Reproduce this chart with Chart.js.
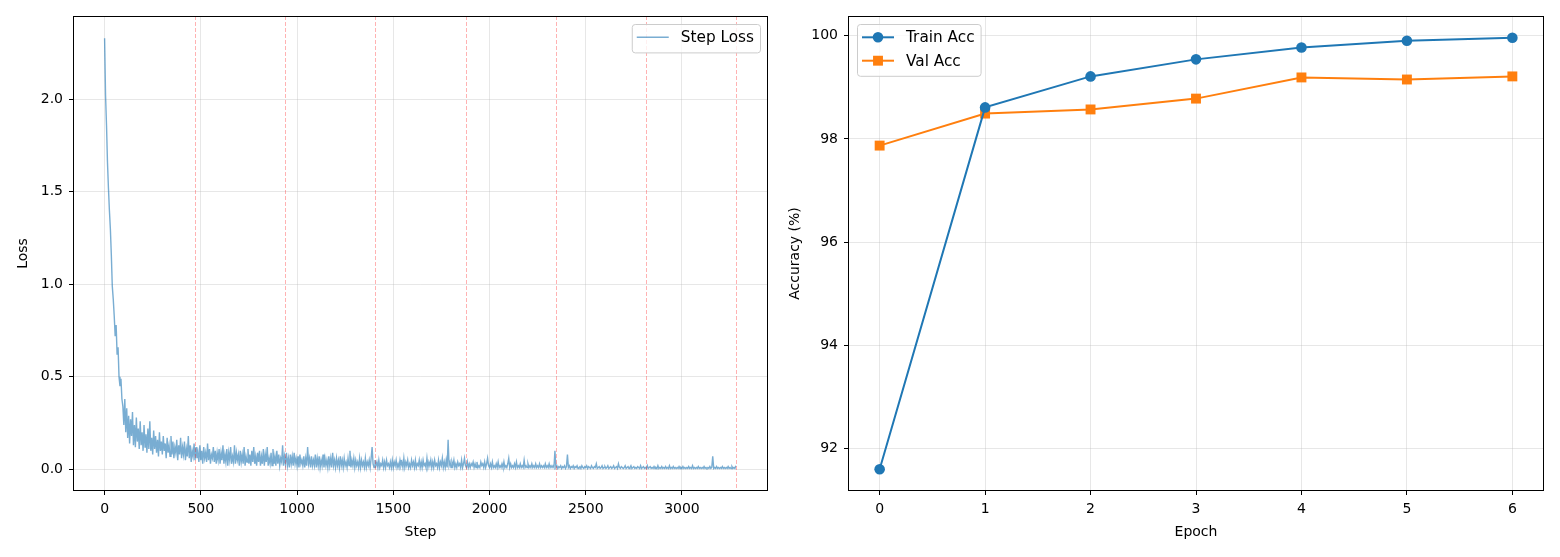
<!DOCTYPE html>
<html>
<head>
<meta charset="utf-8">
<script src="https://cdn.jsdelivr.net/npm/chart.js@4.4.1/dist/chart.umd.min.js"></script>
<style>
  html, body { margin: 0; padding: 0; background: #fff; }
  #wrap { position: relative; width: 1560px; height: 557px; }
  .panel { position: absolute; top: 0; width: 780px; height: 557px; }
</style>
</head>
<body>
<div id="wrap">
  <div class="panel" style="left:0"><canvas id="lossChart" width="780" height="557"></canvas></div>
  <div class="panel" style="left:780px"><canvas id="accChart" width="780" height="557"></canvas></div>
</div>
<script>
/* data, one loss value every 5 steps */
const stepStride = 5;
const lossValues = [
  2.33, 2.02, 1.86, 1.66, 1.52, 1.40, 1.30, 1.16, 0.99, 0.92, 0.83, 0.72, 0.78, 0.62, 0.66, 0.50, 0.45, 0.49, 0.38, 0.34,
  0.24, 0.38, 0.20, 0.33, 0.17, 0.29, 0.14, 0.27, 0.18, 0.31, 0.13, 0.24, 0.12, 0.28, 0.15, 0.22, 0.11, 0.26, 0.13, 0.20,
  0.10, 0.24, 0.12, 0.19, 0.09, 0.22, 0.11, 0.26, 0.10, 0.17, 0.08, 0.21, 0.11, 0.18, 0.09, 0.16, 0.07, 0.20, 0.10, 0.15,
  0.08, 0.18, 0.10, 0.14, 0.06, 0.17, 0.09, 0.13, 0.07, 0.18, 0.08, 0.15, 0.06, 0.12, 0.09, 0.16, 0.05, 0.13, 0.08, 0.17,
  0.06, 0.12, 0.08, 0.15, 0.05, 0.11, 0.07, 0.18, 0.06, 0.13, 0.04, 0.10, 0.07, 0.14, 0.05, 0.12, 0.06, 0.09, 0.04, 0.13,
  0.05, 0.10, 0.03, 0.12, 0.06, 0.09, 0.04, 0.14, 0.05, 0.11, 0.03, 0.08, 0.06, 0.12, 0.04, 0.10, 0.03, 0.09, 0.05, 0.11,
  0.03, 0.09, 0.05, 0.13, 0.03, 0.08, 0.04, 0.11, 0.02, 0.09, 0.05, 0.12, 0.03, 0.07, 0.04, 0.13, 0.03, 0.09, 0.05, 0.08,
  0.02, 0.10, 0.04, 0.08, 0.03, 0.12, 0.02, 0.07, 0.04, 0.11, 0.03, 0.08, 0.02, 0.10, 0.04, 0.12, 0.03, 0.07, 0.02, 0.09,
  0.04, 0.10, 0.02, 0.07, 0.03, 0.11, 0.02, 0.08, 0.04, 0.12, 0.02, 0.06, 0.03, 0.09, 0.02, 0.11, 0.03, 0.07, 0.02, 0.10,
  0.03, 0.08, 0.02, 0.06, 0.04, 0.13, 0.02, 0.07, 0.03, 0.09, 0.02, 0.06, 0.01, 0.08, 0.03, 0.07, 0.02, 0.09, 0.03, 0.06,
  0.02, 0.07, 0.01, 0.08, 0.03, 0.05, 0.02, 0.07, 0.01, 0.06, 0.02, 0.12, 0.03, 0.06, 0.01, 0.07, 0.02, 0.05, 0.02, 0.08,
  0.01, 0.06, 0.02, 0.07, 0.01, 0.05, 0.02, 0.08, 0.01, 0.06, 0.02, 0.05, 0.01, 0.07, 0.02, 0.06, 0.01, 0.09, 0.02, 0.05,
  0.01, 0.06, 0.02, 0.05, 0.01, 0.07, 0.02, 0.05, 0.01, 0.06, 0.02, 0.04, 0.01, 0.06, 0.02, 0.10, 0.01, 0.05, 0.02, 0.06,
  0.01, 0.05, 0.02, 0.04, 0.01, 0.06, 0.01, 0.05, 0.02, 0.04, 0.01, 0.06, 0.01, 0.04, 0.02, 0.05, 0.01, 0.06, 0.12, 0.03,
  0.01, 0.05, 0.02, 0.04, 0.01, 0.05, 0.01, 0.03, 0.02, 0.05, 0.01, 0.04, 0.01, 0.05, 0.02, 0.03, 0.01, 0.04, 0.01, 0.05,
  0.01, 0.04, 0.02, 0.05, 0.01, 0.03, 0.01, 0.05, 0.02, 0.04, 0.01, 0.06, 0.01, 0.04, 0.02, 0.05, 0.01, 0.03, 0.01, 0.05,
  0.02, 0.04, 0.01, 0.05, 0.01, 0.03, 0.02, 0.05, 0.01, 0.04, 0.01, 0.05, 0.02, 0.03, 0.01, 0.06, 0.01, 0.04, 0.02, 0.05,
  0.01, 0.04, 0.01, 0.05, 0.02, 0.03, 0.01, 0.05, 0.01, 0.04, 0.02, 0.06, 0.01, 0.04, 0.01, 0.05, 0.01, 0.16, 0.02, 0.04,
  0.01, 0.04, 0.02, 0.05, 0.01, 0.03, 0.01, 0.04, 0.02, 0.03, 0.01, 0.05, 0.01, 0.03, 0.06, 0.02, 0.01, 0.04, 0.01, 0.03,
  0.01, 0.03, 0.02, 0.04, 0.01, 0.03, 0.01, 0.04, 0.01, 0.02, 0.01, 0.04, 0.02, 0.03, 0.01, 0.04, 0.01, 0.03, 0.06, 0.02,
  0.01, 0.03, 0.01, 0.04, 0.01, 0.02, 0.01, 0.03, 0.01, 0.04, 0.01, 0.02, 0.01, 0.03, 0.01, 0.04, 0.01, 0.02, 0.01, 0.03,
  0.06, 0.01, 0.03, 0.01, 0.02, 0.01, 0.03, 0.01, 0.04, 0.01, 0.02, 0.01, 0.03, 0.01, 0.02, 0.01, 0.05, 0.01, 0.02, 0.01,
  0.03, 0.01, 0.02, 0.01, 0.03, 0.01, 0.02, 0.01, 0.03, 0.01, 0.02, 0.01, 0.03, 0.01, 0.02, 0.01, 0.02, 0.01, 0.03, 0.01,
  0.02, 0.01, 0.03, 0.01, 0.02, 0.01, 0.02, 0.01, 0.10, 0.01, 0.02, 0.005, 0.015, 0.01, 0.02, 0.005, 0.015, 0.01, 0.02, 0.005,
  0.015, 0.08, 0.01, 0.02, 0.005, 0.015, 0.01, 0.02, 0.005, 0.015, 0.01, 0.02, 0.005, 0.01, 0.015, 0.005, 0.02, 0.01, 0.005, 0.015,
  0.01, 0.02, 0.005, 0.015, 0.01, 0.005, 0.02, 0.01, 0.005, 0.015, 0.01, 0.03, 0.005, 0.01, 0.015, 0.005, 0.01, 0.02, 0.005, 0.01,
  0.015, 0.005, 0.01, 0.02, 0.005, 0.01, 0.015, 0.005, 0.01, 0.02, 0.005, 0.01, 0.015, 0.005, 0.03, 0.01, 0.005, 0.015, 0.01, 0.005,
  0.01, 0.02, 0.005, 0.01, 0.015, 0.005, 0.01, 0.02, 0.005, 0.01, 0.015, 0.005, 0.01, 0.005, 0.015, 0.01, 0.005, 0.02, 0.005, 0.01,
  0.015, 0.005, 0.01, 0.005, 0.02, 0.005, 0.01, 0.015, 0.005, 0.01, 0.005, 0.015, 0.005, 0.01, 0.005, 0.02, 0.005, 0.01, 0.005, 0.015,
  0.005, 0.01, 0.005, 0.015, 0.005, 0.01, 0.005, 0.02, 0.005, 0.01, 0.005, 0.015, 0.005, 0.01, 0.005, 0.01, 0.005, 0.015, 0.005, 0.01,
  0.005, 0.015, 0.005, 0.01, 0.005, 0.01, 0.005, 0.015, 0.005, 0.01, 0.005, 0.02, 0.005, 0.01, 0.005, 0.01, 0.005, 0.015, 0.005, 0.01,
  0.005, 0.01, 0.005, 0.015, 0.005, 0.01, 0.005, 0.01, 0.005, 0.015, 0.005, 0.01, 0.07, 0.005, 0.01, 0.005, 0.015, 0.005, 0.01, 0.005,
  0.01, 0.005, 0.015, 0.005, 0.01, 0.005, 0.01, 0.005, 0.015, 0.005, 0.01, 0.005, 0.015, 0.005, 0.01, 0.005, 0.02
];
const epochEndSteps = [469, 938, 1407, 1876, 2345, 2814, 3283];
const lossXTicks = [0, 500, 1000, 1500, 2000, 2500, 3000];
const lossYTicks = [0, 0.5, 1.0, 1.5, 2.0];

const epochs = [0, 1, 2, 3, 4, 5, 6];
const trainAcc = [91.60, 98.61, 99.21, 99.54, 99.77, 99.90, 99.96];
const valAcc = [97.87, 98.49, 98.57, 98.78, 99.19, 99.15, 99.21];
const accYTicks = [92, 94, 96, 98, 100];

const FONT = 'DejaVu Sans';
const gridColor = 'rgba(176,176,176,0.3)';
Chart.defaults.font.family = FONT;
Chart.defaults.font.size = 14;
Chart.defaults.color = '#000';

// full black box round the plot area, like matplotlib spines
const spines = {
    id: 'spines',
    afterDraw(chart) {
        const { ctx, chartArea: a } = chart;
        ctx.save();
        ctx.strokeStyle = '#000';
        ctx.lineWidth = 1;
        ctx.strokeRect(a.left + 0.5, a.top + 0.5, a.right - a.left - 1, a.bottom - a.top - 1);
        ctx.restore();
    }
};

// red dashed lines at the end of every epoch
const epochLines = {
    id: 'epochLines',
    afterDatasetsDraw(chart) {
        const { ctx, chartArea: a, scales: { x } } = chart;
        ctx.save();
        ctx.strokeStyle = 'rgba(255,0,0,0.3)';
        ctx.lineWidth = 1;
        ctx.setLineDash([4, 2]);
        epochEndSteps.forEach(s => {
            const px = Math.round(x.getPixelForValue(s)) + 0.5;
            ctx.beginPath();
            ctx.moveTo(px, a.top);
            ctx.lineTo(px, a.bottom);
            ctx.stroke();
        });
        ctx.restore();
    }
};

// legend box inside the plot area
const mplLegend = {
    id: 'mplLegend',
    afterDraw(chart, args, opts) {
        const { ctx, chartArea: a } = chart;
        const sets = chart.data.datasets;
        ctx.save();
        ctx.font = '15.3px "' + FONT + '"';
        const rowH = 23.4, pad = 5, lineLen = 32, gap = 12;
        const textW = Math.max(...sets.map(d => ctx.measureText(d.label).width));
        const w = pad + lineLen + gap + textW + 6;
        const h = rowH * sets.length + 5;
        const x = opts.align === 'right' ? a.right - 8 - w : a.left + 9;
        const y = a.top + 8;
        ctx.beginPath();
        ctx.roundRect(x + 0.5, y + 0.5, w, h, 3);
        ctx.fillStyle = 'rgba(255,255,255,0.8)';
        ctx.fill();
        ctx.strokeStyle = '#cccccc';
        ctx.lineWidth = 1;
        ctx.stroke();
        sets.forEach((d, i) => {
            const cy = y + 13.3 + rowH * i;
            const x0 = x + pad, x1 = x + pad + lineLen;
            ctx.strokeStyle = d.borderColor;
            ctx.lineWidth = d.borderWidth;
            ctx.beginPath();
            ctx.moveTo(x0, cy);
            ctx.lineTo(x1, cy);
            ctx.stroke();
            const mx = (x0 + x1) / 2;
            ctx.fillStyle = d.backgroundColor;
            if (d.pointStyle === 'circle') {
                ctx.beginPath();
                ctx.arc(mx, cy, d.pointRadius, 0, Math.PI * 2);
                ctx.fill();
            } else if (d.pointStyle === 'rect') {
                const s = d.pointRadius * Math.SQRT1_2;
                ctx.fillRect(mx - s, cy - s, 2 * s, 2 * s);
            }
            ctx.fillStyle = '#000';
            ctx.textBaseline = 'middle';
            ctx.fillText(d.label, x1 + gap, cy + 1);
        });
        ctx.restore();
    }
};

function axisStyle(ticks, fmt) {
    return {
        grid: { color: gridColor, tickColor: '#000', tickLength: 4, lineWidth: 1 },
        border: { display: false },
        ticks: { padding: 6, callback: fmt, autoSkip: false, maxRotation: 0 },
        afterBuildTicks: scale => { scale.ticks = ticks.map(v => ({ value: v })); }
    };
}

function lossChart() {
    const points = lossValues.map((v, i) => ({ x: i * stepStride, y: v }));
    const ctx = document.getElementById('lossChart');
    new Chart(ctx, {
        type: 'line',
        data: {
            datasets: [{
                label: 'Step Loss',
                data: points,
                borderColor: 'rgba(31,119,180,0.6)',
                backgroundColor: 'rgba(31,119,180,0.6)',
                borderWidth: 1.4,
                pointRadius: 0,
                tension: 0
            }]
        },
        options: {
            responsive: false,
            animation: false,
            devicePixelRatio: 1,
            layout: { padding: { left: 0, right: 12, top: 16, bottom: 0 } },
            plugins: { legend: { display: false }, tooltip: { enabled: false }, mplLegend: { align: 'right' } },
            scales: {
                x: Object.assign(axisStyle(lossXTicks, v => v), {
                    type: 'linear', min: -164.15, max: 3447.15,
                    title: { display: true, text: 'Step', padding: { top: 0, bottom: 16 } },
                    afterFit: s => { s.height = 66; }
                }),
                y: Object.assign(axisStyle(lossYTicks, v => v.toFixed(1)), {
                    min: -0.117, max: 2.45,
                    title: { display: true, text: 'Loss', padding: { top: 15, bottom: 0 } },
                    afterFit: s => { s.width = 73; }
                })
            }
        },
        plugins: [epochLines, spines, mplLegend]
    });
}

function accChart() {
    const ctx = document.getElementById('accChart');
    new Chart(ctx, {
        type: 'line',
        data: {
            datasets: [{
                label: 'Train Acc',
                data: epochs.map((e, i) => ({ x: e, y: trainAcc[i] })),
                borderColor: '#1f77b4',
                backgroundColor: '#1f77b4',
                borderWidth: 2,
                pointStyle: 'circle',
                pointRadius: 5.3,
                pointBorderWidth: 0
            },
            {
                label: 'Val Acc',
                data: epochs.map((e, i) => ({ x: e, y: valAcc[i] })),
                borderColor: '#ff7f0e',
                backgroundColor: '#ff7f0e',
                borderWidth: 2,
                pointStyle: 'rect',
                pointRadius: 7,
                pointBorderWidth: 0
            }]
        },
        options: {
            responsive: false,
            animation: false,
            devicePixelRatio: 1,
            layout: { padding: { left: 0, right: 16, top: 16, bottom: 0 } },
            plugins: { legend: { display: false }, tooltip: { enabled: false }, mplLegend: { align: 'left' } },
            scales: {
                x: Object.assign(axisStyle(epochs, v => v), {
                    type: 'linear', min: -0.3, max: 6.3,
                    title: { display: true, text: 'Epoch', padding: { top: 0, bottom: 16 } },
                    afterFit: s => { s.height = 66; }
                }),
                y: Object.assign(axisStyle(accYTicks, v => v), {
                    min: 91.18, max: 100.38,
                    title: { display: true, text: 'Accuracy (%)', padding: { top: 7, bottom: 0 } },
                    afterFit: s => { s.width = 68; }
                })
            }
        },
        plugins: [spines, mplLegend]
    });
}

lossChart();
accChart();
</script>
</body>
</html>
